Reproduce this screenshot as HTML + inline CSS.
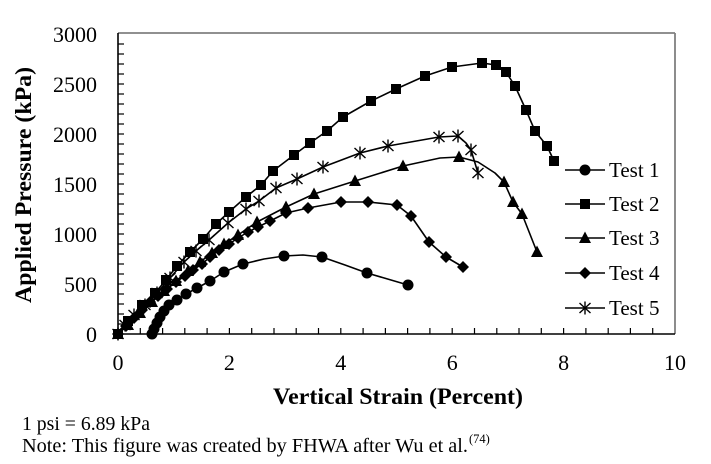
<!DOCTYPE html>
<html>
<head>
<meta charset="utf-8">
<style>
html,body{margin:0;padding:0;background:#fff;}
svg{display:block;}
text{font-family:"Liberation Serif","Times New Roman",serif;fill:#000;}
</style>
</head>
<body>
<svg width="711" height="464" viewBox="0 0 711 464" xmlns="http://www.w3.org/2000/svg">
<defs>
  <g id="mc"><circle cx="0" cy="0" r="5.5" fill="#000"/></g>
  <g id="ms"><rect x="-5" y="-5" width="10" height="10" fill="#000"/></g>
  <g id="mt"><polygon points="0,-6.5 6,5 -6,5" fill="#000"/></g>
  <g id="md"><polygon points="0,-6 6,0 0,6 -6,0" fill="#000"/></g>
  <g id="mx" stroke="#000" stroke-width="1.4" fill="none"><line x1="0" y1="-6.5" x2="0" y2="6.5"/><line x1="-5.5" y1="-5" x2="5.5" y2="5"/><line x1="-5.5" y1="5" x2="5.5" y2="-5"/></g>
</defs>

<!-- plot frame -->
<line x1="118" y1="33" x2="675" y2="33" stroke="#808080" stroke-width="1.8"/>
<line x1="675" y1="33" x2="675" y2="334" stroke="#808080" stroke-width="1.8"/>
<line x1="118" y1="33" x2="118" y2="334" stroke="#000" stroke-width="1.6"/>
<line x1="113" y1="334" x2="675" y2="334" stroke="#000" stroke-width="1.6"/>

<!-- y minor ticks every 100 -->
<g stroke="#000" stroke-width="1.2">
<line x1="118" y1="324" x2="124" y2="324"/><line x1="118" y1="314" x2="124" y2="314"/><line x1="118" y1="304" x2="124" y2="304"/><line x1="118" y1="294" x2="124" y2="294"/><line x1="118" y1="284" x2="124" y2="284"/>
<line x1="118" y1="274" x2="124" y2="274"/><line x1="118" y1="264" x2="124" y2="264"/><line x1="118" y1="254" x2="124" y2="254"/><line x1="118" y1="244" x2="124" y2="244"/><line x1="118" y1="234" x2="124" y2="234"/>
<line x1="118" y1="224" x2="124" y2="224"/><line x1="118" y1="214" x2="124" y2="214"/><line x1="118" y1="204" x2="124" y2="204"/><line x1="118" y1="194" x2="124" y2="194"/><line x1="118" y1="184" x2="124" y2="184"/>
<line x1="118" y1="174" x2="124" y2="174"/><line x1="118" y1="164" x2="124" y2="164"/><line x1="118" y1="154" x2="124" y2="154"/><line x1="118" y1="144" x2="124" y2="144"/><line x1="118" y1="134" x2="124" y2="134"/>
<line x1="118" y1="124" x2="124" y2="124"/><line x1="118" y1="114" x2="124" y2="114"/><line x1="118" y1="104" x2="124" y2="104"/><line x1="118" y1="94" x2="124" y2="94"/><line x1="118" y1="84" x2="124" y2="84"/>
<line x1="118" y1="74" x2="124" y2="74"/><line x1="118" y1="64" x2="124" y2="64"/><line x1="118" y1="54" x2="124" y2="54"/><line x1="118" y1="44" x2="124" y2="44"/>
</g>
<!-- x ticks every 0.4 -->
<g stroke="#000" stroke-width="1.2">
<line x1="140.3" y1="334" x2="140.3" y2="328"/><line x1="162.6" y1="334" x2="162.6" y2="328"/><line x1="184.8" y1="334" x2="184.8" y2="328"/><line x1="207.1" y1="334" x2="207.1" y2="328"/><line x1="229.4" y1="334" x2="229.4" y2="328"/>
<line x1="251.7" y1="334" x2="251.7" y2="328"/><line x1="274" y1="334" x2="274" y2="328"/><line x1="296.2" y1="334" x2="296.2" y2="328"/><line x1="318.5" y1="334" x2="318.5" y2="328"/><line x1="340.8" y1="334" x2="340.8" y2="328"/>
<line x1="363.1" y1="334" x2="363.1" y2="328"/><line x1="385.4" y1="334" x2="385.4" y2="328"/><line x1="407.6" y1="334" x2="407.6" y2="328"/><line x1="429.9" y1="334" x2="429.9" y2="328"/><line x1="452.2" y1="334" x2="452.2" y2="328"/>
<line x1="474.5" y1="334" x2="474.5" y2="328"/><line x1="496.8" y1="334" x2="496.8" y2="328"/><line x1="519" y1="334" x2="519" y2="328"/><line x1="541.3" y1="334" x2="541.3" y2="328"/><line x1="563.6" y1="334" x2="563.6" y2="328"/>
<line x1="585.9" y1="334" x2="585.9" y2="328"/><line x1="608.2" y1="334" x2="608.2" y2="328"/><line x1="630.4" y1="334" x2="630.4" y2="328"/><line x1="652.7" y1="334" x2="652.7" y2="328"/>
</g>

<!-- y tick labels -->
<g font-size="22" text-anchor="end">
<text x="97" y="342">0</text>
<text x="97" y="292">500</text>
<text x="97" y="242">1000</text>
<text x="97" y="192">1500</text>
<text x="97" y="142">2000</text>
<text x="97" y="92">2500</text>
<text x="97" y="42">3000</text>
</g>
<!-- x tick labels -->
<g font-size="22" text-anchor="middle">
<text x="118" y="370">0</text>
<text x="229.4" y="370">2</text>
<text x="340.8" y="370">4</text>
<text x="452.2" y="370">6</text>
<text x="563.6" y="370">8</text>
<text x="675" y="370">10</text>
</g>

<!-- axis titles -->
<text x="398" y="404" font-size="23.5" font-weight="bold" text-anchor="middle" textLength="250" lengthAdjust="spacingAndGlyphs">Vertical Strain (Percent)</text>
<text transform="translate(31,185) rotate(-90)" x="0" y="0" font-size="23.5" font-weight="bold" text-anchor="middle" textLength="236" lengthAdjust="spacingAndGlyphs">Applied Pressure (kPa)</text>

<!-- Series lines -->
<g fill="none" stroke="#000" stroke-width="1.6" stroke-linejoin="round">
<!-- Test 1 -->
<polyline points="152,334 154,329 157,323 160,317 164,311 169,305 177,300 186,294 197,288 210,281 224,272 243,264 264,259 284,256 303,255 322,257 345,265 367,273 408,285"/>
<!-- Test 2 -->
<polyline points="118,334 128,321 142,305 155,293 166,280 177,266 190,252 203,239 216,224 229,212 246,197 261,185 273,171 294,155 310,143 327,131 343,117 371,101 396,89 425,76 452,67 482,63 496,65 506,72 515,86 526,110 535,131 547,146 554,161"/>
<!-- Test 3 -->
<polyline points="118,334 128,325 140,313 152,302 164,291 176,281 188,271 200,262 212,253 224,244 238,235 257,222 286,207 314,194 355,181 403,166 440,158 459,157 478,162 495,173 504,182 513,202 522,214 537,252"/>
<!-- Test 4 -->
<polyline points="118,334 126,326 134,318 142,310 150,302 158,296 167,289 176,282 185,276 193,270 202,264 210,257 219,250 229,244 238,238 248,232 258,227 270,221 286,213 308,208 341,202 368,202 397,205 411,216 429,242 446,257 463,267"/>
<!-- Test 5 -->
<polyline points="118,334 125,325 134,315 145,305 157,293 170,278 184,262 196,251 209,240 228,223 246,209 259,201 276,188 297,179 323,167 360,153 388,146 439,137 458,136 466,143 471,150 478,173"/>
</g>

<!-- Markers -->
<g>
<use href="#mc" x="152" y="334"/><use href="#mc" x="154" y="329"/><use href="#mc" x="157" y="323"/><use href="#mc" x="160" y="317"/><use href="#mc" x="164" y="311"/><use href="#mc" x="169" y="305"/><use href="#mc" x="177" y="300"/><use href="#mc" x="186" y="294"/><use href="#mc" x="197" y="288"/><use href="#mc" x="210" y="281"/><use href="#mc" x="224" y="272"/><use href="#mc" x="243" y="264"/><use href="#mc" x="284" y="256"/><use href="#mc" x="322" y="257"/><use href="#mc" x="367" y="273"/><use href="#mc" x="408" y="285"/>

<use href="#ms" x="118" y="334"/><use href="#ms" x="128" y="321"/><use href="#ms" x="142" y="305"/><use href="#ms" x="155" y="293"/><use href="#ms" x="166" y="280"/><use href="#ms" x="177" y="266"/><use href="#ms" x="190" y="252"/><use href="#ms" x="203" y="239"/><use href="#ms" x="216" y="224"/><use href="#ms" x="229" y="212"/><use href="#ms" x="246" y="197"/><use href="#ms" x="261" y="185"/><use href="#ms" x="273" y="171"/><use href="#ms" x="294" y="155"/><use href="#ms" x="310" y="143"/><use href="#ms" x="327" y="131"/><use href="#ms" x="343" y="117"/><use href="#ms" x="371" y="101"/><use href="#ms" x="396" y="89"/><use href="#ms" x="425" y="76"/><use href="#ms" x="452" y="67"/><use href="#ms" x="482" y="63"/><use href="#ms" x="496" y="65"/><use href="#ms" x="506" y="72"/><use href="#ms" x="515" y="86"/><use href="#ms" x="526" y="110"/><use href="#ms" x="535" y="131"/><use href="#ms" x="547" y="146"/><use href="#ms" x="554" y="161"/>

<use href="#mt" x="118" y="334"/><use href="#mt" x="128" y="325"/><use href="#mt" x="140" y="313"/><use href="#mt" x="152" y="302"/><use href="#mt" x="164" y="291"/><use href="#mt" x="176" y="281"/><use href="#mt" x="188" y="271"/><use href="#mt" x="200" y="262"/><use href="#mt" x="212" y="253"/><use href="#mt" x="224" y="244"/><use href="#mt" x="238" y="235"/><use href="#mt" x="257" y="222"/><use href="#mt" x="286" y="207"/><use href="#mt" x="314" y="194"/><use href="#mt" x="355" y="181"/><use href="#mt" x="403" y="166"/><use href="#mt" x="459" y="157"/><use href="#mt" x="504" y="182"/><use href="#mt" x="513" y="202"/><use href="#mt" x="522" y="214"/><use href="#mt" x="537" y="252"/>

<use href="#md" x="118" y="334"/><use href="#md" x="126" y="326"/><use href="#md" x="134" y="318"/><use href="#md" x="142" y="310"/><use href="#md" x="150" y="302"/><use href="#md" x="158" y="296"/><use href="#md" x="167" y="289"/><use href="#md" x="176" y="282"/><use href="#md" x="185" y="276"/><use href="#md" x="193" y="270"/><use href="#md" x="202" y="264"/><use href="#md" x="210" y="257"/><use href="#md" x="219" y="250"/><use href="#md" x="229" y="244"/><use href="#md" x="238" y="238"/><use href="#md" x="248" y="232"/><use href="#md" x="258" y="227"/><use href="#md" x="270" y="221"/><use href="#md" x="286" y="213"/><use href="#md" x="308" y="208"/><use href="#md" x="341" y="202"/><use href="#md" x="368" y="202"/><use href="#md" x="397" y="205"/><use href="#md" x="411" y="216"/><use href="#md" x="429" y="242"/><use href="#md" x="446" y="257"/><use href="#md" x="463" y="267"/>

<use href="#mx" x="118" y="334"/><use href="#mx" x="125" y="325"/><use href="#mx" x="134" y="315"/><use href="#mx" x="145" y="305"/><use href="#mx" x="157" y="293"/><use href="#mx" x="170" y="278"/><use href="#mx" x="184" y="262"/><use href="#mx" x="196" y="251"/><use href="#mx" x="209" y="240"/><use href="#mx" x="228" y="223"/><use href="#mx" x="246" y="209"/><use href="#mx" x="259" y="201"/><use href="#mx" x="276" y="188"/><use href="#mx" x="297" y="179"/><use href="#mx" x="323" y="167"/><use href="#mx" x="360" y="153"/><use href="#mx" x="388" y="146"/><use href="#mx" x="439" y="137"/><use href="#mx" x="458" y="136"/><use href="#mx" x="471" y="150"/><use href="#mx" x="478" y="173"/>
</g>

<!-- Legend -->
<g stroke="#000" stroke-width="1.6">
<line x1="565" y1="170" x2="605" y2="170"/>
<line x1="565" y1="204" x2="605" y2="204"/>
<line x1="565" y1="238" x2="605" y2="238"/>
<line x1="565" y1="273" x2="605" y2="273"/>
<line x1="565" y1="308" x2="605" y2="308"/>
</g>
<use href="#mc" x="585" y="170"/>
<rect x="580" y="199" width="10" height="10" fill="#000"/>
<use href="#mt" x="585" y="238"/>
<use href="#md" x="585" y="273"/>
<use href="#mx" x="585" y="308"/>
<g font-size="21">
<text x="609" y="177">Test 1</text>
<text x="609" y="211">Test 2</text>
<text x="609" y="245">Test 3</text>
<text x="609" y="280">Test 4</text>
<text x="609" y="315">Test 5</text>
</g>

<!-- Notes -->
<text x="22" y="430" font-size="19.5" textLength="128" lengthAdjust="spacingAndGlyphs">1 psi = 6.89 kPa</text>
<text x="22" y="452" font-size="19.5" textLength="446" lengthAdjust="spacingAndGlyphs">Note: This figure was created by FHWA after Wu et al.</text>
<text x="469" y="443" font-size="12.5">(74)</text>
</svg>
</body>
</html>
